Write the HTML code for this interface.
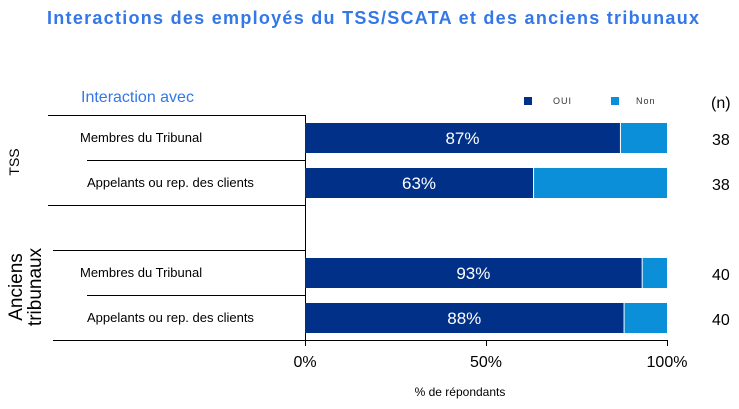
<!DOCTYPE html>
<html><head><meta charset="utf-8"><style>
body{margin:0;background:#fff;}
svg{display:block;font-family:"Liberation Sans",sans-serif;}
</style></head><body>
<svg id="chart" width="739" height="409" viewBox="0 0 739 409">
<text x="47" y="24" textLength="652" lengthAdjust="spacing" font-size="18" font-weight="bold" fill="#3377e8">Interactions  des employés  du  TSS/SCATA  et des anciens  tribunaux</text>
<text x="81" y="102" font-size="16" fill="#3377e8">Interaction avec</text>
<g>
<rect x="524" y="97" width="8" height="8" fill="#003087"/>
<text x="553" y="104" font-size="9" fill="#333" letter-spacing="1">OUI</text>
<rect x="611" y="97" width="8" height="8" fill="#0a8fd8"/>
<text x="636" y="104" font-size="9" fill="#333" letter-spacing="1">Non</text>
</g>
<text x="711" y="108" font-size="16" fill="#000">(n)</text>
<text transform="translate(19,162) rotate(-90)" text-anchor="middle" font-size="14">TSS</text>
<text transform="translate(22,287) rotate(-90)" text-anchor="middle" font-size="19">Anciens</text>
<text transform="translate(41,287) rotate(-90)" text-anchor="middle" font-size="19">tribunaux</text>
<g id="lines" stroke="#000" stroke-width="1">
<line x1="48" y1="115.5" x2="305" y2="115.5"/>
<line x1="87" y1="160.5" x2="305" y2="160.5"/>
<line x1="48" y1="205.5" x2="305" y2="205.5"/>
<line x1="53" y1="250.5" x2="305" y2="250.5"/>
<line x1="87" y1="295.5" x2="305" y2="295.5"/>
<line x1="53" y1="340.5" x2="667" y2="340.5"/>
<line x1="305.5" y1="115" x2="305.5" y2="346"/>
</g>
<g id="bars"></g>
<text x="460" y="396" text-anchor="middle" font-size="12">% de répondants</text>
</svg>
<script>
const categories = ["Membres du Tribunal","Appelants ou rep. des clients","Membres du Tribunal","Appelants ou rep. des clients"];
const ouiValues = [87,63,93,88];
const nValues = [38,38,40,40];
const tickValues = [0,50,100];
const tickLabels = ["0%","50%","100%"];

const NS="http://www.w3.org/2000/svg";
const svg=document.getElementById('chart');
const g=document.getElementById('bars');
const x0=305,x1=667;
function xs(v){return x0+(x1-x0)*v/100;}
const rowTops=[123,168,258,303];
const bh=30;
function mk(tag,attrs,parent){const e=document.createElementNS(NS,tag);for(const k in attrs)e.setAttribute(k,attrs[k]);(parent||g).appendChild(e);return e;}
categories.forEach((c,i)=>{
  const y=rowTops[i];
  const r1=mk('rect',{x:xs(0),y:y,width:xs(ouiValues[i])-xs(0),height:bh,fill:'#003087'});
  
  
  const r2=mk('rect',{x:xs(ouiValues[i])+1,y:y,width:xs(100)-xs(ouiValues[i])-1,height:bh,fill:'#0a8fd8'});
  
  
  const t=mk('text',{x:(xs(0)+xs(ouiValues[i]))/2,y:y+21,'text-anchor':'middle','font-size':17,fill:'#fff'});
  t.textContent=ouiValues[i]+'%';
  
  
  const l=mk('text',{x:i%2===0?80:87,y:y+19,'font-size':13,fill:'#000'});
  l.textContent=c;
  
  
  const n=mk('text',{x:712,y:y+22,'font-size':16,fill:'#000'});
  n.textContent=nValues[i];
  
  
});
tickValues.forEach((v,i)=>{
  const tk=mk('line',{x1:xs(v)+0.5,y1:340,x2:xs(v)+0.5,y2:346,stroke:'#000'});
  
  
  const tl=mk('text',{x:xs(v),y:367,'text-anchor':'middle','font-size':16});
  tl.textContent=tickLabels[i];
  
  
});
</script>
</body></html>
